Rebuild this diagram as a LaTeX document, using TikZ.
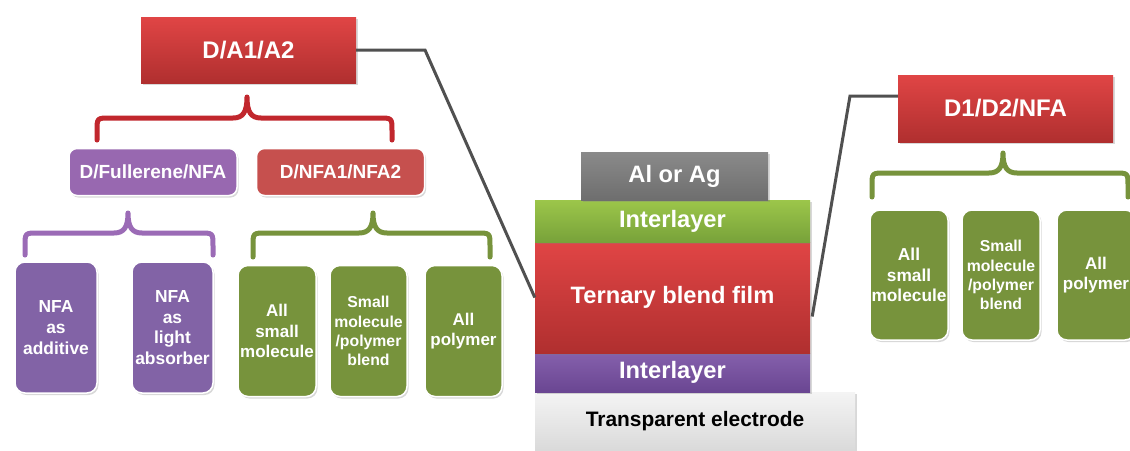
\documentclass[tikz,border=0pt]{standalone}
\usepackage{fontspec}
\setmainfont{Liberation Sans}
\usetikzlibrary{shadows,calc}
\definecolor{redT}{HTML}{E04545}
\definecolor{redB}{HTML}{B02F2F}
\definecolor{redM}{HTML}{C6504E}
\definecolor{purL}{HTML}{9868B0}
\definecolor{purD}{HTML}{8263A6}
\definecolor{grn}{HTML}{77933C}
\definecolor{grnT}{HTML}{9CC64A}
\definecolor{grnB}{HTML}{78A23A}
\definecolor{braceRed}{HTML}{C1272D}
\definecolor{bracePur}{HTML}{9B6BB6}
\definecolor{braceGrn}{HTML}{77933C}
\definecolor{conn}{HTML}{505050}
\definecolor{metT}{HTML}{8A8A8A}
\definecolor{metB}{HTML}{6E6E6E}
\definecolor{ilpT}{HTML}{8560AC}
\definecolor{ilpB}{HTML}{6A4692}
\definecolor{teT}{HTML}{F4F4F4}
\definecolor{teB}{HTML}{DADADA}
\tikzset{
  shad/.style={drop shadow={opacity=0.3,shadow xshift=1.5pt,shadow yshift=-2pt}},
  bigbox/.style={shad,top color=redT,bottom color=redB,draw=none,inner sep=0pt,
    text=white,font={\fontsize{24}{28}\selectfont\bfseries}},
  midbox/.style={shad,draw=white,line width=1.5pt,rounded corners=8pt,inner sep=0pt,
    minimum width=168pt,minimum height=47pt,text=white,font={\fontsize{19}{22}\selectfont\bfseries}},
  tallbox/.style={shad,draw=white,line width=1.5pt,rounded corners=10pt,inner sep=0pt,
    align=center,text=white,minimum height=131pt},
  layer/.style={shad,draw=none,inner sep=0pt,minimum width=275pt,text=white,
    font={\fontsize{23.7}{26}\selectfont\bfseries}},
  bracepath/.style={line width=5pt,line cap=round,line join=round},
  connline/.style={draw=conn,line width=3pt},
  fA/.style={font={\fontsize{17.4}{20.7}\selectfont\bfseries}},
  fB/.style={font={\fontsize{15.8}{19.2}\selectfont\bfseries}},
}
\newcommand{\mybrace}[7]{%
  \draw[bracepath,#7] (#1,#4) -- (#1,#5+13) .. controls (#1,#5) and (#1,#5) .. (#1+13,#5)
    -- (#3-14,#5) .. controls (#3-4,#5) and (#3,#5-6) .. (#3,#6)
    .. controls (#3,#5-6) and (#3+4,#5) .. (#3+14,#5)
    -- (#2-13,#5) .. controls (#2,#5) and (#2,#5) .. (#2,#5+13) -- (#2,#4);}
\begin{document}
\begin{tikzpicture}[x=1pt,y=-1pt]
\path[use as bounding box,clip] (0,0) rectangle (1130,450);
\fill[white] (0,0) rectangle (1130,450);

% left tree
\node[bigbox,minimum width=215pt,minimum height=66pt] (da) at (248.5,50) {D/A1/A2};
\mybrace{97}{392}{247}{140}{118}{97}{braceRed}
\node[midbox,fill=purL] (dfn) at (153,172) {D/Fullerene/NFA};
\node[midbox,fill=redM] (dnn) at (340.5,172) {D/NFA1/NFA2};
\mybrace{25}{213}{128}{255}{233}{213}{bracePur}
\mybrace{253}{490}{373}{257}{233}{213}{braceGrn}
\node[tallbox,fA,fill=purD,minimum width=82pt] (p1) at (56,327.5) {NFA\\as\\additive};
\node[tallbox,fA,fill=purD,minimum width=81pt] (p2) at (172.5,327.5) {NFA\\as\\light\\absorber};
\node[tallbox,fill=grn,minimum width=78pt,font={\fontsize{17}{20.8}\selectfont\bfseries}] (g1) at (277,331) {All\\small\\molecule};
\node[tallbox,fB,fill=grn,minimum width=77pt] (g2) at (368.5,331) {Small\\molecule\\/polymer\\blend};
\node[tallbox,fill=grn,minimum width=77pt,font={\fontsize{17}{20.5}\selectfont\bfseries}] (g3) at (463.5,331) {All\\polymer};

% device stack
\node[layer,top color=teT,bottom color=teB,minimum width=320pt,minimum height=58pt,text=black,
  font={\fontsize{20.9}{24}\selectfont\bfseries}] (te) at (695,421) {Transparent electrode};
\node[layer,top color=ilpT,bottom color=ilpB,minimum height=39pt] (il2) at (672.5,372.5) {Interlayer};
\node[layer,top color=redT,bottom color=redB,minimum height=111pt] (film) at (672.5,297.5) {Ternary blend film};
\node[layer,top color=grnT,bottom color=grnB,minimum height=42pt] (il1) at (672.5,221) {Interlayer};
\node[layer,top color=metT,bottom color=metB,minimum width=187pt,minimum height=48pt] (metal) at (674.5,176) {Al or Ag};

% right tree
\node[bigbox,minimum width=215pt,minimum height=67pt] (d12) at (1005.5,108.5) {D1/D2/NFA};
\mybrace{872}{1128}{1003}{197}{173}{153}{braceGrn}
\node[tallbox,fill=grn,minimum width=78pt,minimum height=130pt,font={\fontsize{17.3}{20.8}\selectfont\bfseries}] (rg1) at (909,275) {All\\small\\molecule};
\node[tallbox,fB,fill=grn,minimum width=78pt,minimum height=130pt] (rg2) at (1001,275) {Small\\molecule\\/polymer\\blend};
\node[tallbox,fill=grn,minimum width=78pt,minimum height=130pt,font={\fontsize{17}{20.5}\selectfont\bfseries}] (rg3) at (1096,275) {All\\polymer};

% connectors
\coordinate (bendL) at (425,50);
\draw[connline] (da.east) -- (bendL) -- (film.west);
\coordinate (startR) at ($(film.east)+(2,19)$);
\coordinate (bendR) at (850,96);
\draw[connline] (startR) -- (bendR) -- (d12.west |- bendR);
\end{tikzpicture}
\end{document}
